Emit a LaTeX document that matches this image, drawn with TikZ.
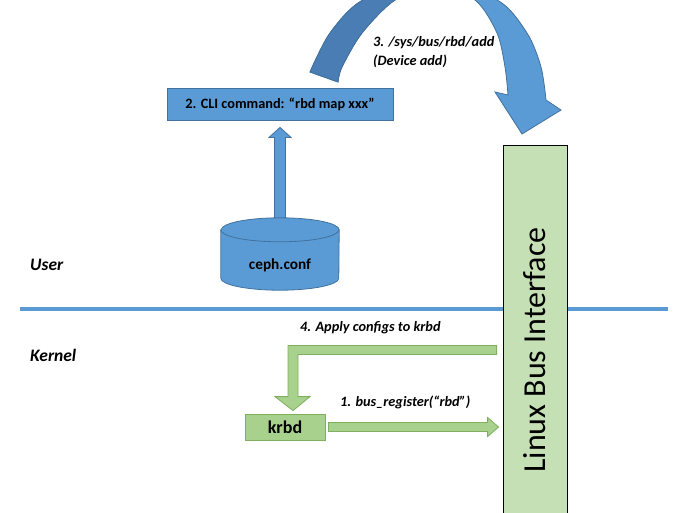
\documentclass[tikz,border=0pt]{standalone}
\usepackage{fontspec}
\setmainfont{Carlito}
\usetikzlibrary{calc}
\definecolor{bluefill}{HTML}{5B9BD5}
\definecolor{blueline}{HTML}{41719C}
\definecolor{blueback}{HTML}{4A7DB4}
\definecolor{greenfill}{HTML}{A9D18E}
\definecolor{greenline}{HTML}{7FAF5F}
\definecolor{busfill}{HTML}{C5E0B4}
% the big curved arrow, in picture pixels
\def\bendarrow{plot[smooth] coordinates {(310,72) (330,33) (363,0) (428,-19) (497,0) (527,33) (541,67) (546,100)}
    -- (561,110) -- (522,134) -- (495,92)
    -- plot[smooth] coordinates {(508,95) (505,67) (497,33) (475,0) (435,-14) (395,0) (362,33) (342,67) (338,82)} -- cycle}
\begin{document}
\begin{tikzpicture}[x=1pt,y=-1pt,
    bluebox/.style={draw=blueline, fill=bluefill, line width=0.8pt},
    greenbox/.style={draw=greenline, fill=greenfill, line width=0.8pt},
    boxtext/.style={font=\fontsize{14.3}{16}\selectfont\bfseries},
    sidetext/.style={font=\fontsize{17.5}{20}\selectfont\bfseries\itshape, anchor=west, inner sep=0pt},
    steptext/.style={font=\fontsize{14.3}{19}\selectfont\bfseries\itshape, align=left, anchor=west, inner sep=0pt}]
    \useasboundingbox (0,0) rectangle (692,512);
    \clip (0,0) rectangle (692,512);

    % user / kernel split
    \coordinate (sepL) at (20,309); \coordinate (sepR) at (668,309);
    \draw[bluefill, line width=4pt] (sepL) -- (sepR);
    \node[sidetext] (user) at (30,265) {User};
    \node[sidetext] (kernel) at (30,355) {Kernel};

    % 3. device add
    \fill[bluefill, draw=blueline, line width=0.8pt] \bendarrow;
    \begin{scope}
        \clip (0,-40) rectangle (430,200);
        \fill[blueback, draw=blueline, line width=0.8pt] \bendarrow;
    \end{scope}
    \node[steptext] (addlbl) at (373,52) {3. /sys/bus/rbd/add\\(Device add)};

    \node[bluebox, boxtext, minimum width=226, minimum height=32] (cli) at (280,104) {2. CLI command: “rbd map xxx”};

    % ceph.conf drum
    \node[inner sep=0pt, minimum width=118, minimum height=72] (conf) at (280,254) {};
    \filldraw[bluebox] ($(conf.north west)+(0,12)$) -- ($(conf.south west)+(0,-12)$)
        arc[start angle=180, end angle=0, x radius=59, y radius=12] -- ($(conf.north east)+(0,12)$)
        arc[start angle=0, end angle=-180, x radius=59, y radius=12] -- cycle;
    \draw[blueline, line width=0.8pt] ($(conf.north west)+(0,12)$) arc[start angle=180, end angle=0, x radius=59, y radius=12];
    \node[boxtext, font=\fontsize{15.3}{17}\selectfont\bfseries] (conflbl) at ($(conf.center)+(0,11)$) {ceph.conf};

    \node[draw=black, fill=busfill, line width=0.8pt, minimum width=64, minimum height=410,
        font=\fontsize{32}{36}\selectfont] (bus) at (535,350) {\rotatebox{90}{Linux Bus Interface}};
    \node[greenbox, boxtext, font=\fontsize{18}{20}\selectfont\bfseries, minimum width=80, minimum height=26] (krbd) at (285,427) {krbd};

    % 2. conf -> cli
    \filldraw[bluebox] ($(conf.north)+(-5.5,0)$) -- ($(cli.south)+(-5.5,17)$) -- ($(cli.south)+(-11,17)$)
        -- ($(cli.south)+(0,7)$) -- ($(cli.south)+(11,17)$) -- ($(cli.south)+(5.5,17)$) -- ($(conf.north)+(5.5,0)$) -- cycle;

    % 4. bus -> krbd
    \coordinate (cfgR) at ($(bus.west)+(-6,0)$); \coordinate (cfgT) at ($(krbd.north)+(8,-3)$);
    \filldraw[greenbox] ($(cfgR)+(0,-4.5)$) -- ($(cfgT |- cfgR)+(-5,-4.5)$) -- ($(cfgT)+(-5,-14)$) -- ($(cfgT)+(-18,-14)$)
        -- (cfgT) -- ($(cfgT)+(17,-14)$) -- ($(cfgT)+(5,-14)$) -- ($(cfgT |- cfgR)+(5,4.5)$) -- ($(cfgR)+(0,4.5)$) -- cycle;
    \node[steptext] (cfglbl) at (300,328) {4. Apply configs to krbd};

    % 1. krbd -> bus
    \coordinate (regT) at ($(krbd.east -| bus.west)+(-4,0)$);
    \filldraw[greenbox] ($(krbd.east)+(3,-4.5)$) -- ($(regT)+(-11,-4.5)$) -- ($(regT)+(-11,-9.5)$) -- (regT)
        -- ($(regT)+(-11,9.5)$) -- ($(regT)+(-11,4.5)$) -- ($(krbd.east)+(3,4.5)$) -- cycle;
    \node[steptext] (reglbl) at (340,402) {1. bus\_register(“rbd”)};
\end{tikzpicture}
\end{document}
